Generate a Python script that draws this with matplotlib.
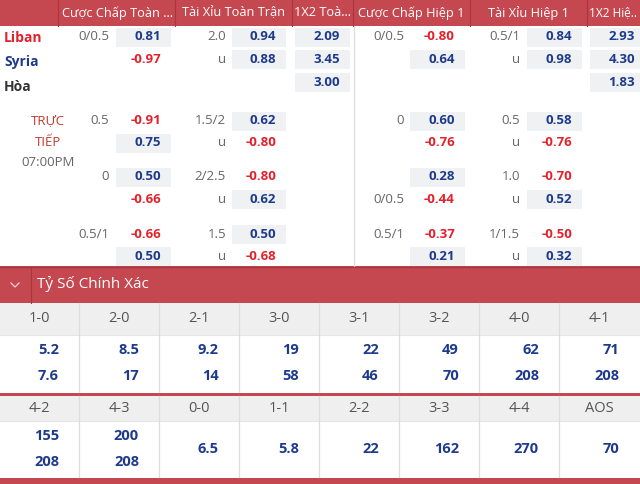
import matplotlib.pyplot as plt
from matplotlib.patches import Rectangle

# ---- data ----
teams = ["Liban", "Syria", "Hòa"]
headers = ["Cược Chấp Toàn ...", "Tài Xỉu Toàn Trận", "1X2 Toà...",
           "Cược Chấp Hiệp 1", "Tài Xỉu Hiệp 1", "1X2 Hiệ.."]

ft_hdp_line = ["0/0.5", "", "0.5", "", "0", "", "0.5/1", ""]
ft_hdp_odds = [0.81, -0.97, -0.91, 0.75, 0.50, -0.66, -0.66, 0.50]
ft_ou_line = ["2.0", "u", "1.5/2", "u", "2/2.5", "u", "1.5", "u"]
ft_ou_odds = [0.94, 0.88, 0.62, -0.80, -0.80, 0.62, 0.50, -0.68]
ft_1x2 = [2.09, 3.45, 3.00]

h1_hdp_line = ["0/0.5", "", "0", "", "", "0/0.5", "0.5/1", ""]
h1_hdp_odds = [-0.80, 0.64, 0.60, -0.76, 0.28, -0.44, -0.37, 0.21]
h1_ou_line = ["0.5/1", "u", "0.5", "u", "1.0", "u", "1/1.5", "u"]
h1_ou_odds = [0.84, 0.98, 0.58, -0.76, -0.70, 0.52, -0.50, 0.32]
h1_1x2 = [2.93, 4.30, 1.83]

cs_title = "Tỷ Số Chính Xác"
cs_top_labels = ["1-0", "2-0", "2-1", "3-0", "3-1", "3-2", "4-0", "4-1"]
cs_top_home = [5.2, 8.5, 9.2, 19, 22, 49, 62, 71]
cs_top_away = [7.6, 17, 14, 58, 46, 70, 208, 208]
cs_bot_labels = ["4-2", "4-3", "0-0", "1-1", "2-2", "3-3", "4-4", "AOS"]
cs_bot_home = [155, 200, 6.5, 5.8, 22, 162, 270, 70]
cs_bot_away = [208, 208, None, None, None, None, None, None]

# ---- style ----
RED_BAND = '#c5474f'
RED_DARK = '#a8363e'
BLUE = '#1d3a8c'
RED = '#e5202a'
GRAY_TXT = '#666666'
BOX = '#f0f1f3'
LINE = '#dddddd'
FONT = ['Open Sans', 'DejaVu Sans']
FS = 9.5      # odds text
HEAD_FS = 9.2  # header text
CS_FS = 10.5  # correct score text

plt.rcParams['font.family'] = FONT

fig = plt.figure(figsize=(6.4, 4.84), dpi=100)
ax = fig.add_axes([0, 0, 1, 1])
ax.set_xlim(0, 640)
ax.set_ylim(484, 0)
ax.axis('off')

# header band
ax.add_patch(Rectangle((0, 0), 640, 25.5, color=RED_BAND, lw=0))
for xd in [58, 175, 292, 353, 470, 587]:
    ax.plot([xd, xd], [0, 25.5], color=RED_DARK, lw=0.8)
head_x = [117, 233, 294, 411, 528, 589]
head_ha = ['center', 'center', 'left', 'center', 'center', 'left']
head_fs = [HEAD_FS, HEAD_FS, HEAD_FS, HEAD_FS, HEAD_FS, 8.6]
for hx, ha, hf, h in zip(head_x, head_ha, head_fs, headers):
    ax.text(hx, 13, h, color='white', fontsize=hf, ha=ha, va='center')

# body divider
ax.plot([354, 354], [25.5, 266], color=LINE, lw=0.9)

# team names
team_colors = ['#e5202a', BLUE, '#333333']
team_y = [38, 62, 87]
for t, c, ty in zip(teams, team_colors, team_y):
    ax.text(4, ty, t, color=c, fontsize=10, fontweight='bold', ha='left', va='center')

# live label
ax.text(48, 121, "TRỰC", color='#c0392b', fontsize=FS, ha='center', va='center')
ax.text(48, 142, "TIẾP", color='#c0392b', fontsize=FS, ha='center', va='center')
ax.text(48, 163, "07:00PM", color=GRAY_TXT, fontsize=FS, ha='center', va='center')

row_y = [37, 59.5, 121, 143, 177, 199.5, 234, 256]
box_h = 19


def odds_col(lines, odds, line_right, box_left, box_right):
    for y, ln, v in zip(row_y, lines, odds):
        if ln:
            ax.text(line_right, y, ln, color=GRAY_TXT, fontsize=FS, ha='right', va='center')
        if v >= 0:
            ax.add_patch(Rectangle((box_left, y - box_h / 2), box_right - box_left, box_h,
                                   color=BOX, lw=0))
            col = BLUE
        else:
            col = RED
        ax.text(box_right - 10, y, f"{v:.2f}", color=col, fontsize=FS,
                fontweight='bold', ha='right', va='center')


odds_col(ft_hdp_line, ft_hdp_odds, 109, 116, 171)
odds_col(ft_ou_line, ft_ou_odds, 226, 232, 286)
odds_col(h1_hdp_line, h1_hdp_odds, 404, 410, 465)
odds_col(h1_ou_line, h1_ou_odds, 520, 527, 582)

x12_y = [37, 59.5, 82]
for vals, bl, br in [(ft_1x2, 295, 350), (h1_1x2, 590, 645)]:
    for y, v in zip(x12_y, vals):
        ax.add_patch(Rectangle((bl, y - box_h / 2), br - bl, box_h, color=BOX, lw=0))
        ax.text(br - 10, y, f"{v:.2f}", color=BLUE, fontsize=FS,
                fontweight='bold', ha='right', va='center')

# correct score section
ax.add_patch(Rectangle((0, 266), 640, 37, color=RED_BAND, lw=0))
ax.plot([0, 640], [266.5, 266.5], color=RED_DARK, lw=1)
ax.plot([31, 31], [267, 303], color=RED_DARK, lw=0.8)
ax.plot([11, 15, 19], [283, 287, 283], color='#f3d6d8', lw=0.9)
ax.text(37, 284, cs_title, color='white', fontsize=11, ha='left', va='center')


def score_block(labels, home, away, top, head_bottom, bottom):
    ax.add_patch(Rectangle((0, top), 640, head_bottom - top, color='#efefef', lw=0))
    ax.plot([0, 640], [head_bottom, head_bottom], color='#e6e6e6', lw=0.8)
    for i in range(1, len(labels)):
        xd = 80 * i - 1.5
        ax.plot([xd, xd], [top, bottom], color=LINE, lw=0.9)
    mid = (head_bottom + bottom) / 2
    for i, (lb, h, a) in enumerate(zip(labels, home, away)):
        ax.text(80 * i + 39, (top + head_bottom) / 2, lb, color='#555555', fontsize=CS_FS,
                ha='center', va='center')
        if a is None:
            ax.text(80 * i + 59, mid, f"{h:g}", color=BLUE, fontsize=CS_FS,
                    fontweight='bold', ha='right', va='center')
        else:
            ax.text(80 * i + 59, mid - 13, f"{h:g}", color=BLUE, fontsize=CS_FS,
                    fontweight='bold', ha='right', va='center')
            ax.text(80 * i + 59, mid + 13, f"{a:g}", color=BLUE, fontsize=CS_FS,
                    fontweight='bold', ha='right', va='center')


score_block(cs_top_labels, cs_top_home, cs_top_away, 303, 335, 392)
ax.add_patch(Rectangle((0, 392.5), 640, 3.5, color=RED_BAND, lw=0))
score_block(cs_bot_labels, cs_bot_home, cs_bot_away, 396, 421, 477)
ax.add_patch(Rectangle((0, 478), 640, 6, color=RED_BAND, lw=0))

fig.savefig('out.png', dpi=100)
